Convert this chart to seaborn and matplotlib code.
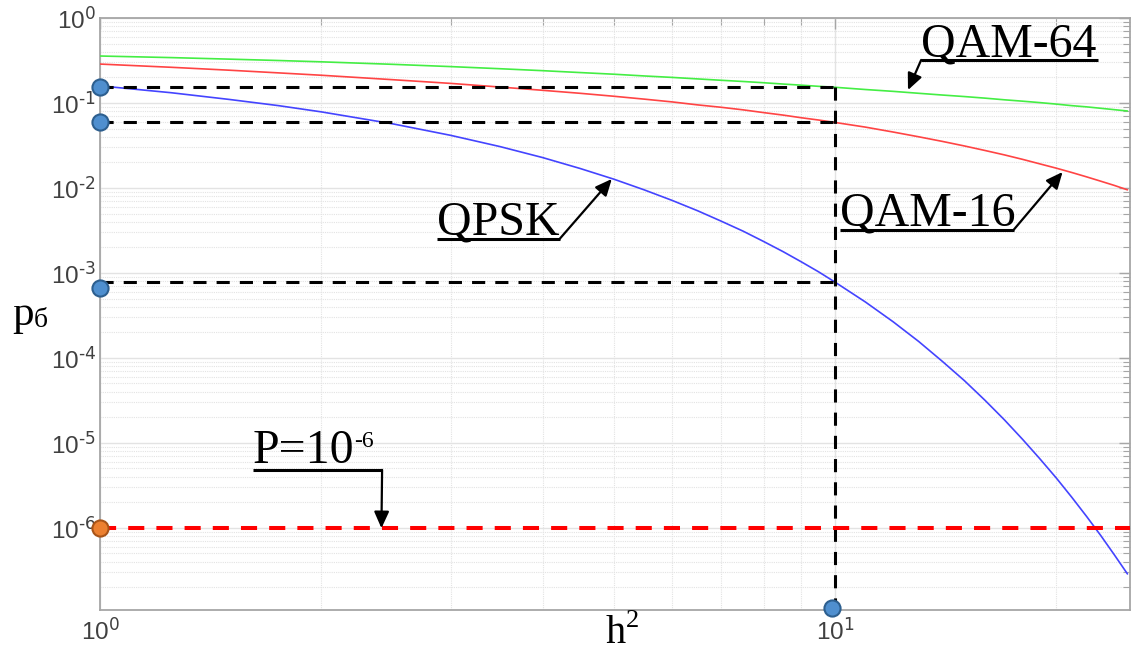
import matplotlib
matplotlib.use("Agg")
import matplotlib.pyplot as plt
import matplotlib.ticker as mticker
import seaborn as sns
import pandas as pd
import numpy as np

# ---------------- data ----------------
h2 = [1, 1.25, 1.5, 1.75, 2, 2.5, 3, 3.5, 4, 4.5, 5, 5.5, 6, 6.5, 7, 7.5, 8,
      8.5, 9, 9.5, 10, 11, 12, 13, 14, 15, 16, 17, 18, 19, 20, 21, 22, 23,
      24, 25]
p_qpsk = [0.159, 0.132, 0.110, 0.093, 0.0786, 0.0569, 0.0416, 0.0307, 0.0228,
          0.01695, 0.0127, 0.0095, 0.00715, 0.0054, 0.00407, 0.0031, 0.00234,
          0.00178, 0.00135, 0.00103, 0.00078, 4.55e-4, 2.66e-4, 1.56e-4,
          9.1e-5, 5.4e-5, 3.17e-5, 1.87e-5, 1.1e-5, 6.5e-6, 3.87e-6, 2.29e-6,
          1.36e-6, 8.1e-7, 4.8e-7, 2.87e-7]
p_qam16 = [0.287, 0.263, 0.243, 0.226, 0.212, 0.188, 0.170, 0.154, 0.141,
           0.130, 0.120, 0.111, 0.103, 0.095, 0.089, 0.083, 0.077, 0.072,
           0.067, 0.063, 0.059, 0.052, 0.0455, 0.040, 0.0353, 0.0312, 0.0276,
           0.0245, 0.0217, 0.0192, 0.0171, 0.0152, 0.0135, 0.0120, 0.0107,
           0.0095]
p_qam64 = [0.357, 0.342, 0.328, 0.316, 0.305, 0.285, 0.268, 0.253, 0.240,
           0.228, 0.218, 0.208, 0.200, 0.192, 0.185, 0.179, 0.173, 0.167,
           0.162, 0.157, 0.153, 0.144, 0.137, 0.130, 0.124, 0.119, 0.114,
           0.109, 0.105, 0.101, 0.097, 0.093, 0.090, 0.0866, 0.0834, 0.0805]

p_target = 1e-6
h2_ref = 10
ref_levels = [0.153, 0.060, 7.8e-4]          # dashed guide levels at h2 = 10
dot_y = [0.153, 0.060, 6.7e-4]               # blue dots on the p axis
dot_x_bottom = 9.9
dot_y_bottom = 1.15e-7
xlim = (1, 25.2)
ylim = (1.08e-7, 1)
x_ticks = [1, 10]
y_ticks = [1e-6, 1e-5, 1e-4, 1e-3, 1e-2, 1e-1, 1]

series_names = ["QPSK", "QAM-16", "QAM-64"]
colors = {"QPSK": "#4444ff", "QAM-16": "#ff4444", "QAM-64": "#44ee44"}

df = pd.DataFrame({
    "h2": h2 * 3,
    "p": p_qpsk + p_qam16 + p_qam64,
    "mod": ["QPSK"] * len(h2) + ["QAM-16"] * len(h2) + ["QAM-64"] * len(h2),
})

# ---------------- style ----------------
sns.set_style("white")
plt.rcParams["font.family"] = ["Liberation Sans", "DejaVu Sans"]
SERIF = ["Liberation Serif", "DejaVu Serif"]

fig = plt.figure(figsize=(11.32, 6.51), dpi=100)
ax = fig.add_axes([100 / 1132, 41 / 651, 1030 / 1132, 592 / 651])
ax.set_xscale("log")
ax.set_yscale("log")
ax.set_xlim(*xlim)
ax.set_ylim(*ylim)

# grid
ax.grid(True, which="major", color="#e3e3e3", lw=1.0, ls="-", zorder=0)
ax.grid(True, which="minor", color="#e3e3e3", lw=0.8, ls=(0, (1, 1)), zorder=0)
ax.set_axisbelow(True)

# curves
sns.lineplot(data=df, x="h2", y="p", hue="mod", palette=colors,
             hue_order=series_names, lw=1.2, legend=False, ax=ax, zorder=3,
             estimator=None, sort=True)

# dashed guides
for lv in ref_levels:
    ax.plot([xlim[0], h2_ref], [lv, lv], color="black", lw=2.2,
            ls=(0, (4.3, 3.3)), zorder=4)
ax.plot([h2_ref, h2_ref], [ref_levels[0], dot_y_bottom], color="black", lw=2.2,
        ls=(0, (4.3, 3.3)), zorder=4)
ax.axhline(p_target, color="#ff0000", lw=2.9, ls=(0, (4.0, 3.0)), zorder=4)

# dots
dots = pd.DataFrame({"x": [1, 1, 1, dot_x_bottom],
                     "y": dot_y + [dot_y_bottom]})
sns.scatterplot(data=dots, x="x", y="y", s=135, color="#4f8fcf",
                edgecolor="#2d5f8f", linewidth=1.5, ax=ax, zorder=6,
                clip_on=False)
sns.scatterplot(x=[1], y=[p_target], s=135, color="#ec8030",
                edgecolor="#a85418", linewidth=1.5, ax=ax, zorder=6,
                clip_on=False)

# ---------------- axes look ----------------
for sp in ax.spines.values():
    sp.set_color("#a6a6a6")
    sp.set_linewidth(1.3)
ax.tick_params(which="both", direction="in", top=True, right=True,
               colors="#a6a6a6", labelcolor="#404040", labelsize=17.5)
ax.tick_params(which="major", length=8, width=1.0)
ax.tick_params(which="minor", length=5, width=0.8)
ax.tick_params(axis="x", which="major", pad=6)
ax.tick_params(axis="y", which="major", pad=3)

def fmt(v, pos):
    e = int(round(np.log10(v)))
    return r"$\mathregular{10^{\text{%d}}}$" % e

ax.xaxis.set_major_locator(mticker.FixedLocator(x_ticks))
ax.xaxis.set_minor_locator(mticker.LogLocator(base=10, subs=np.arange(2, 10), numticks=10))
ax.xaxis.set_major_formatter(mticker.FuncFormatter(fmt))
ax.xaxis.set_minor_formatter(mticker.NullFormatter())
ax.yaxis.set_major_locator(mticker.FixedLocator(y_ticks))
ax.yaxis.set_minor_locator(mticker.LogLocator(base=10, subs=np.arange(2, 10), numticks=20))
ax.yaxis.set_major_formatter(mticker.FuncFormatter(fmt))
ax.yaxis.set_minor_formatter(mticker.NullFormatter())
ax.set_xlim(*xlim)
ax.set_ylim(*ylim)

ax.set_xlabel("")
ax.set_ylabel("")

# axis labels
ax.text(0.51, -0.056, "h", transform=ax.transAxes,
        ha="right", va="baseline", fontsize=29, family=SERIF, color="black")
ax.text(0.511, -0.028, "2", transform=ax.transAxes,
        ha="left", va="baseline", fontsize=19, family=SERIF, color="black")
ax.text(-0.0854, 0.481, "p", transform=ax.transAxes, ha="left", va="baseline",
        fontsize=31, family=SERIF, color="black")
ax.text(-0.064, 0.478, "б", transform=ax.transAxes, ha="left", va="baseline",
        fontsize=20, family=SERIF, color="black")

# ---------------- annotations ----------------
def label(text, x0, x1, y_line, y_text, tip, from_left=False):
    ax.text(x0, y_text, text, ha="left", va="baseline", fontsize=34.5,
            family=SERIF, color="black", zorder=7)
    ax.plot([x0, x1], [y_line, y_line], color="black", lw=2.2,
            solid_capstyle="butt", zorder=7)
    start = (x0, y_line) if from_left else (x1, y_line)
    ax.annotate("", xy=tip, xytext=start,
                arrowprops=dict(arrowstyle="-|>,head_length=1.0,head_width=0.45",
                                color="black", lw=1.6, shrinkA=0, shrinkB=0),
                zorder=7)

label("QAM-64", 13.1, 22.8, 0.321, 0.352, (12.57, 0.142), from_left=True)
label("QAM-16", 10.15, 17.5, 0.00321, 0.00360, (20.4, 0.0154))
label("QPSK", 2.87, 4.22, 0.00251, 0.00282, (4.97, 0.01276))
label("P=10", 1.615, 2.42, 4.81e-6, 5.8e-6, (2.415, 9.9e-7))
ax.text(2.215, 8.9e-6, "-6", ha="left", va="baseline", fontsize=17,
        family=SERIF, color="black", zorder=7)

fig.savefig("out.png", dpi=100)
